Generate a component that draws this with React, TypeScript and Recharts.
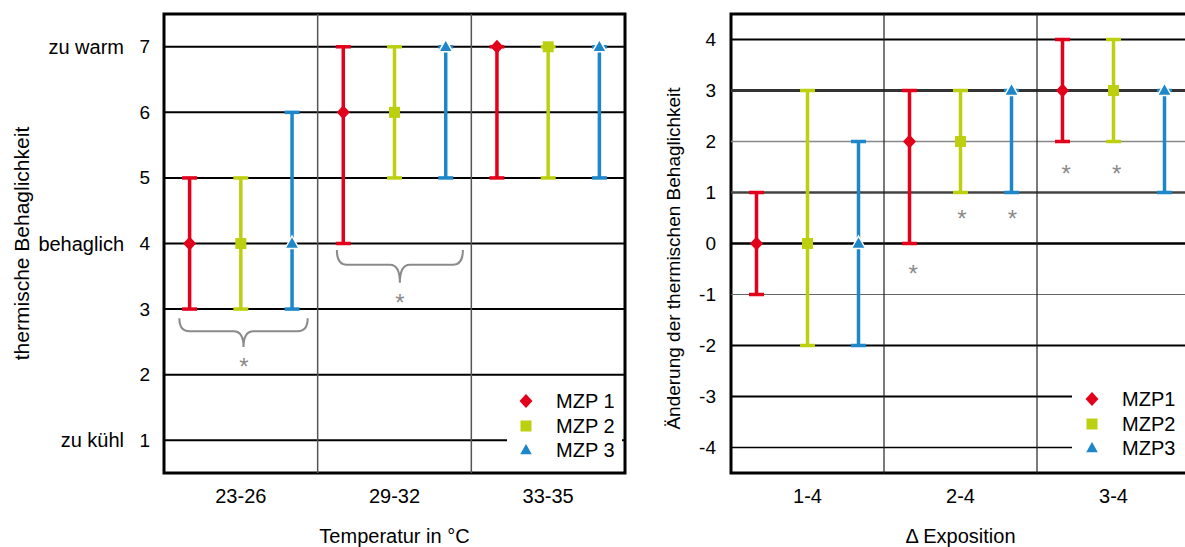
import React from 'react';
import {
  ScatterChart,
  Scatter,
  XAxis,
  YAxis,
  ErrorBar,
  ReferenceLine,
  ReferenceArea,
  ReferenceDot,
  Legend,
} from 'recharts';

const FONT = '"Liberation Sans", Arial, Helvetica, sans-serif';
const RED = '#e3001b';
const GREEN = '#bdd00f';
const BLUE = '#1d87ca';
const STAR = '#8a8a8a';

// ---- left: thermische Behaglichkeit je Temperaturbereich ----
const tempGroups = ['23-26', '29-32', '33-35'];
const comfortTicks = [1, 2, 3, 4, 5, 6, 7];
const comfortNames = ['zu kühl', '', '', 'behaglich', '', '', 'zu warm'];
const mzpNames = ['MZP 1', 'MZP 2', 'MZP 3'];

const comfort1 = [4, 6, 7];
const comfort1Low = [3, 4, 5];
const comfort1High = [5, 7, 7];
const comfort2 = [4, 6, 7];
const comfort2Low = [3, 5, 5];
const comfort2High = [5, 7, 7];
const comfort3 = [4, 7, 7];
const comfort3Low = [3, 5, 5];
const comfort3High = [6, 7, 7];

// significance (x in group units, 0..3)
const tempStarX = [0.52, 1.535];
const tempStarY = [2.2, 3.17];
const tempBraceFrom = [0.1, 1.125];
const tempBraceTo = [0.935, 1.945];
const tempBraceLow = [2.42, 3.4];
const tempBraceHigh = [2.86, 3.9];

// ---- right: Änderung je Exposition ----
const expoGroups = ['1-4', '2-4', '3-4'];
const changeTicks = [-4, -3, -2, -1, 0, 1, 2, 3, 4];
const changeNames = ['MZP1', 'MZP2', 'MZP3'];

const change1 = [0, 2, 3];
const change1Low = [-1, 0, 2];
const change1High = [1, 3, 4];
const change2 = [0, 2, 3];
const change2Low = [-2, 1, 2];
const change2High = [3, 3, 4];
const change3 = [0, 3, 3];
const change3Low = [-2, 1, 1];
const change3High = [2, 3, 3];

const expoStarX = [1.19, 1.51, 1.84, 2.19, 2.52];
const expoStarY = [-0.5, 0.57, 0.57, 1.47, 1.47];

// line look per tick of the right panel (-4 .. 4)
const changeLineColor = ['#000', '#000', '#000', '#666', '#000', '#444', '#888', '#333', '#000'];
const changeLineWidth = [1.5, 2, 2, 1.2, 2.5, 2.5, 1.5, 3, 2];

const colors = [RED, GREEN, BLUE];
const kinds = ['diamond', 'square', 'triangle'];

const slot = (s: number) => (s + 0.5) / 3;

function toRows(mean: number[], low: number[], high: number[], s: number) {
  return mean.map((m, i) => ({ x: i + slot(s), y: m, err: [m - low[i], high[i] - m] }));
}

function Marker({ kind, cx, cy, color }: any) {
  if (kind === 'diamond') {
    return <polygon points={`${cx},${cy - 7} ${cx + 6.5},${cy} ${cx},${cy + 7} ${cx - 6.5},${cy}`} fill={color} />;
  }
  if (kind === 'square') {
    return <rect x={cx - 5.5} y={cy - 5.5} width={11} height={11} fill={color} />;
  }
  return (
    <polygon
      points={`${cx},${cy - 7.5} ${cx + 7},${cy + 5} ${cx - 7},${cy + 5}`}
      fill={color}
      stroke="#fff"
      strokeWidth={1.5}
    />
  );
}

function Star(p: any) {
  return (
    <text x={p.cx} y={p.cy + 13} textAnchor="middle" fontSize={24} fontFamily={FONT} fill={STAR}>
      *
    </text>
  );
}

function Brace(p: any) {
  const { x, y, width: w, height: h } = p;
  const m = y + h * 0.45;
  const cx = x + w / 2;
  const r = 10;
  const d = `M${x},${y} Q${x},${m} ${x + r},${m} L${cx - r},${m} Q${cx},${m} ${cx},${y + h} Q${cx},${m} ${cx + r},${m} L${x + w - r},${m} Q${x + w},${m} ${x + w},${y}`;
  return <path d={d} fill="none" stroke={STAR} strokeWidth={2} />;
}

function YTitle(props: any) {
  const { viewBox, text, dx, dy, size } = props;
  const cx = viewBox.x + dx;
  const cy = viewBox.y + viewBox.height / 2 + dy;
  return (
    <text
      x={cx}
      y={cy}
      transform={`rotate(-90 ${cx} ${cy})`}
      textAnchor="middle"
      dominantBaseline="central"
      fontSize={size}
      fontFamily={FONT}
      fill="#000"
    >
      {text}
    </text>
  );
}

function XTitle(props: any) {
  const { viewBox, text } = props;
  return (
    <text
      x={viewBox.x + viewBox.width / 2}
      y={viewBox.y + 70}
      textAnchor="middle"
      fontSize={20}
      fontFamily={FONT}
      fill="#000"
    >
      {text}
    </text>
  );
}

function LegendBox({ names, markW, gap }: any) {
  return (
    <div style={{ background: '#fff', width: '100%', height: '100%', paddingTop: 2, boxSizing: 'border-box' }}>
      {names.map((n: string, i: number) => (
        <div key={n} style={{ display: 'flex', alignItems: 'center', height: 24.5 }}>
          <svg width={markW} height={20}>
            <Marker kind={kinds[i]} cx={markW / 2} cy={10} color={colors[i]} />
          </svg>
          <span style={{ marginLeft: gap, fontFamily: FONT, fontSize: 20, color: '#000', lineHeight: '20px' }}>{n}</span>
        </div>
      ))}
    </div>
  );
}

function Panel(props: any) {
  const {
    width, yWidth, right, groups, ticks, domain, tickNames, series, lineColor, lineWidth,
    dividerColor, dividerWidth, stars, braces, legend, yTitle, yTitleDx, yTitleDy, yTitleSize, xTitle, tickGap,
  } = props;

  const YTick = (p: any) => {
    const v = p.payload.value;
    const name = tickNames ? tickNames[ticks.indexOf(v)] : '';
    return (
      <g>
        <text x={p.x} y={p.y} textAnchor="end" dominantBaseline="central" fontSize={19} fontFamily={FONT} fill="#000">
          {v}
        </text>
        {name ? (
          <text x={p.x - 26} y={p.y} textAnchor="end" dominantBaseline="central" fontSize={20} fontFamily={FONT} fill="#000">
            {name}
          </text>
        ) : null}
      </g>
    );
  };

  return (
    <ScatterChart width={width} height={547} margin={{ top: 14, right, bottom: 0, left: 0 }}>
      <XAxis
        type="number"
        dataKey="x"
        domain={[0, 3]}
        ticks={[0.5, 1.5, 2.5]}
        tickFormatter={(v: number) => groups[Math.floor(v)]}
        allowDataOverflow
        axisLine={false}
        tickLine={false}
        tickSize={0}
        tickMargin={16}
        height={74}
        tick={{ fontSize: 20, fill: '#000', fontFamily: FONT }}
        label={<XTitle text={xTitle} />}
      />
      <YAxis
        type="number"
        dataKey="y"
        domain={domain}
        ticks={ticks}
        allowDataOverflow
        axisLine={false}
        tickLine={false}
        tickSize={0}
        tickMargin={tickGap}
        width={yWidth}
        tick={<YTick />}
        label={<YTitle text={yTitle} dx={yTitleDx} dy={yTitleDy} size={yTitleSize} />}
      />
      {ticks.map((t: number, i: number) => (
        <ReferenceLine key={`h${t}`} y={t} stroke={lineColor[i]} strokeWidth={lineWidth[i]} />
      ))}
      <ReferenceLine x={1} stroke={dividerColor} strokeWidth={dividerWidth} />
      <ReferenceLine x={2} stroke={dividerColor} strokeWidth={dividerWidth} />
      <ReferenceArea
        x1={0}
        x2={3}
        y1={domain[0]}
        y2={domain[1]}
        fill="none"
        fillOpacity={0}
        stroke="#000"
        strokeWidth={3}
        ifOverflow="visible"
      />
      {braces.map((b: any, i: number) => (
        <ReferenceArea key={`b${i}`} x1={b.x1} x2={b.x2} y1={b.y1} y2={b.y2} shape={<Brace />} ifOverflow="visible" />
      ))}
      {stars.map((s: any, i: number) => (
        <ReferenceDot key={`s${i}`} x={s.x} y={s.y} r={1} shape={<Star />} ifOverflow="visible" />
      ))}
      {series.map((s: any, i: number) => (
        <Scatter
          key={s.name}
          name={s.name}
          data={s.rows}
          fill={colors[i]}
          isAnimationActive={false}
          shape={(p: any) => <Marker kind={kinds[i]} cx={p.cx} cy={p.cy} color={colors[i]} />}
        >
          <ErrorBar dataKey="err" direction="y" width={7.5} stroke={colors[i]} strokeWidth={3.5} />
        </Scatter>
      ))}
      <Legend
        layout="vertical"
        align="center"
        verticalAlign="middle"
        content={() => <LegendBox names={legend.names} markW={legend.markW} gap={legend.gap} />}
        wrapperStyle={{ left: legend.left, top: legend.top, width: legend.width, height: legend.height }}
      />
    </ScatterChart>
  );
}

export default function App() {
  const tempSeries = [
    { name: mzpNames[0], rows: toRows(comfort1, comfort1Low, comfort1High, 0) },
    { name: mzpNames[1], rows: toRows(comfort2, comfort2Low, comfort2High, 1) },
    { name: mzpNames[2], rows: toRows(comfort3, comfort3Low, comfort3High, 2) },
  ];
  const expoSeries = [
    { name: changeNames[0], rows: toRows(change1, change1Low, change1High, 0) },
    { name: changeNames[1], rows: toRows(change2, change2Low, change2High, 1) },
    { name: changeNames[2], rows: toRows(change3, change3Low, change3High, 2) },
  ];
  const tempStars = tempStarX.map((x, i) => ({ x, y: tempStarY[i] }));
  const tempBraces = tempBraceFrom.map((x1, i) => ({ x1, x2: tempBraceTo[i], y1: tempBraceLow[i], y2: tempBraceHigh[i] }));
  const expoStars = expoStarX.map((x, i) => ({ x, y: expoStarY[i] }));

  return (
    <div style={{ position: 'absolute', left: 0, top: 0, width: 1185, height: 547, overflow: 'hidden', background: '#fff' }}>
      <div style={{ position: 'absolute', left: 0, top: 0 }}>
        <Panel
          width={640}
          yWidth={164}
          right={15}
          groups={tempGroups}
          ticks={comfortTicks}
          domain={[0.5, 7.5]}
          tickNames={comfortNames}
          series={tempSeries}
          lineColor={comfortTicks.map(() => '#000')}
          lineWidth={comfortTicks.map(() => 2)}
          dividerColor="#555"
          dividerWidth={1.5}
          stars={tempStars}
          braces={tempBraces}
          legend={{ names: mzpNames, markW: 38, gap: 11, left: 507, top: 387, width: 115, height: 78 }}
          yTitle="thermische Behaglichkeit"
          yTitleDx={21}
          yTitleDy={0}
          yTitleSize={21}
          xTitle="Temperatur in °C"
          tickGap={14}
        />
      </div>
      <div style={{ position: 'absolute', left: 640, top: 0 }}>
        <Panel
          width={560}
          yWidth={91}
          right={10}
          groups={expoGroups}
          ticks={changeTicks}
          domain={[-4.5, 4.5]}
          tickNames={null}
          series={expoSeries}
          lineColor={changeLineColor}
          lineWidth={changeLineWidth}
          dividerColor="#222"
          dividerWidth={1.2}
          stars={expoStars}
          braces={[]}
          legend={{ names: changeNames, markW: 40, gap: 10, left: 432, top: 385, width: 130, height: 78 }}
          yTitle="Änderung der thermischen Behaglichkeit"
          yTitleDx={33}
          yTitleDy={15}
          yTitleSize={19}
          xTitle="Δ Exposition"
          tickGap={15}
        />
      </div>
    </div>
  );
}
